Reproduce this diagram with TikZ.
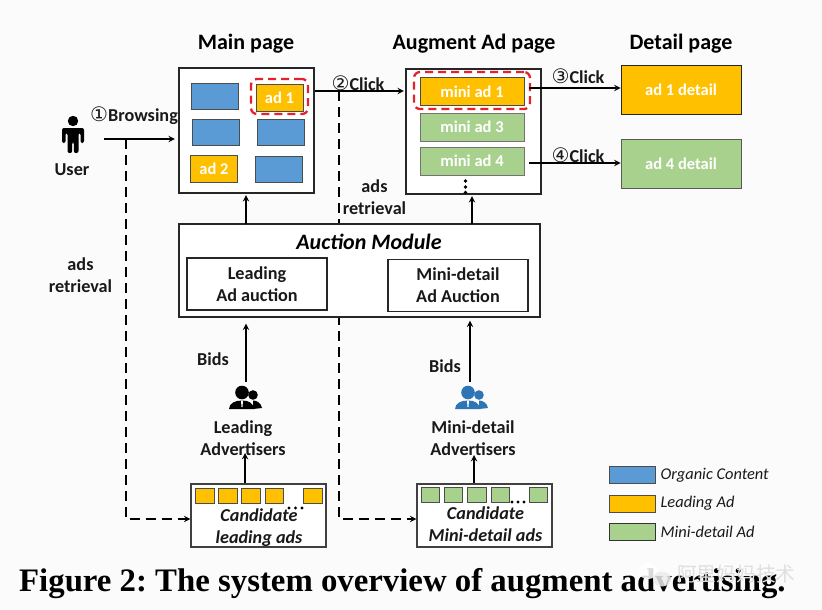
\documentclass[tikz,border=0pt]{standalone}
\usepackage{fontspec}
\setmainfont{Carlito}
\newfontfamily\capfont{Liberation Serif}
\newfontfamily\circfont{DejaVu Sans}
\newfontfamily\cjkfont{Noto Sans CJK SC}
\usetikzlibrary{positioning}
\definecolor{bluead}{HTML}{5B9BD5}
\definecolor{leadad}{HTML}{FFC000}
\definecolor{miniad}{HTML}{A9D18E}
\definecolor{paperbg}{HTML}{FBFBFB}
\definecolor{advblue}{HTML}{2E75B6}
\definecolor{dashred}{HTML}{E8202A}
\newcommand{\circno}[1]{{\circfont\fontsize{20}{20}\selectfont\mdseries #1}}

\begin{document}
\begin{tikzpicture}[
  x=1pt, y=-1pt,
  every node/.style={font=\fontsize{18.2}{22}\selectfont\bfseries, align=center, inner sep=0pt, text=black!90},
  pagebox/.style={rectangle, draw=black!85, line width=1.2pt, fill=white, minimum width=135pt, minimum height=125pt},
  organic/.style={rectangle, draw=black!70, line width=.9pt, fill=bluead, minimum width=47pt, minimum height=26pt},
  leadbox/.style={rectangle, draw=black!70, line width=.9pt, fill=leadad, minimum width=47pt, minimum height=27pt,
                  text=white, font=\fontsize{16.5}{20}\selectfont\bfseries},
  minibox/.style={rectangle, draw=black!55, line width=.9pt, fill=miniad, minimum width=104pt, minimum height=28pt,
                  text=white, font=\fontsize{16.5}{20}\selectfont\bfseries},
  detailbox/.style={rectangle, draw=black!85, line width=.9pt, minimum width=120pt, minimum height=49pt,
                    text=white, font=\fontsize{16.5}{20}\selectfont\bfseries},
  auctionbox/.style={rectangle, draw=black!85, line width=1.2pt, fill=white, minimum width=140pt, minimum height=52pt},
  candbox/.style={rectangle, draw=black!75, line width=1.2pt, fill=white, minimum width=135pt, minimum height=63pt},
  tinybox/.style={rectangle, draw=black!70, line width=.7pt, minimum width=18.5pt, minimum height=14.5pt},
  keybox/.style={rectangle, draw=black!70, line width=.8pt, minimum width=46pt, minimum height=17pt},
  keytext/.style={font=\fontsize{16.4}{19}\selectfont\itshape, anchor=west},
  candtext/.style={font=\fontsize{18.2}{22}\selectfont\bfseries\itshape},
  redline/.style={rectangle, draw=dashred, line width=2.3pt, rounded corners=6pt, dash pattern=on 8pt off 5pt},
  arr/.style={-stealth, line width=1.8pt, black},
  dasharr/.style={-stealth, line width=1.8pt, black, dash pattern=on 10pt off 6pt},
  title/.style={font=\fontsize{22}{26}\selectfont\bfseries, text=black},
  person/.pic={
    \fill[#1] (0,-14) circle (5.2);
    \fill[#1, rounded corners=2pt] (-11,-7) -- (11,-7) -- (11,8) -- (7.5,8) -- (7.5,-2) -- (5.5,-2)
      -- (5.5,18) -- (.8,18) -- (.8,7) -- (-.8,7) -- (-.8,18) -- (-5.5,18) -- (-5.5,-2) -- (-7.5,-2) -- (-7.5,8) -- (-11,8) -- cycle;
  },
  bizpair/.pic={
    \fill[#1] (-3,-4.5) circle (6.8);
    \fill[#1] (8,-2) circle (4.8);
    \fill[#1] (-16,12) .. controls (-15.5,6) and (-10,3.5) .. (-3,3.5) .. controls (4,3.5) and (8,6) .. (9,12) -- cycle;
    \fill[#1] (8,3.5) .. controls (12,3.5) and (16,6) .. (17,11) -- (8,12) -- cycle;
    \fill[white] (-4,3.5) -- (-2,3.5) -- (-2.5,10) -- (-3.5,10) -- cycle;
  }
]
\useasboundingbox (0,0) rectangle (822,610);
\fill[paperbg] (0,0) rectangle (822,610);

% titles
\node[title] (tmain)   at (246,44) {Main page};
\node[title] (taug)    at (474,44) {Augment Ad page};
\node[title] (tdetail) at (681,44) {Detail page};

% dashed retrieval lines go under the boxes
\coordinate (browsefork) at (126,139);
\coordinate (clickfork)  at (339,91);
\coordinate (leftcorner) at (126,519);
\coordinate (midcorner)  at (339,519);

\node[candbox] (candL) at (258.5,515.5) {};
\node[candbox] (candM) at (484.5,515.5) {};
\draw[dasharr] (browsefork) -- (leftcorner) -- (candL.west |- leftcorner);
\draw[dasharr] (clickfork) -- (midcorner) -- (candM.west |- midcorner);

% main page
\node[pagebox] (mainpage) at (246.5,130.5) {};
\node[organic] (org1) at (214.5,96) {};
\node[organic] (org2) at (215.5,132) {};
\node[organic] (org3) at (280.5,132) {};
\node[organic] (org4) at (278.5,169) {};
\node[leadbox] (ad1) at (279.5,97.5) {ad 1};
\node[leadbox] (ad2) at (214,168.5) {ad 2};
\node[redline, minimum width=57pt, minimum height=35pt] (ad1mark) at (279.5,96.5) {};

% augment ad page
\node[pagebox] (augpage) at (473.5,131.5) {};
\node[minibox, fill=leadad, draw=black!70] (mini1) at (472,91.5) {mini ad 1};
\node[minibox] (mini3) at (472,127) {mini ad 3};
\node[minibox] (mini4) at (472,161) {mini ad 4};
\node[redline, minimum width=116pt, minimum height=37pt] (mini1mark) at (472,90.5) {};
\foreach \y in {181,187,192.5} {
  \fill[black] (465.5,\y) circle (1.8);
}

% detail pages
\node[detailbox, fill=leadad] (det1) at (681,89.5) {ad 1 detail};
\node[detailbox, fill=miniad, draw=black!65] (det4) at (681,163.5) {ad 4 detail};

% user
\pic at (73,135) {person=black};
\node (user) at (72,170) {User};

% click arrows
\coordinate (browsestart) at (104,139);
\coordinate (click1) at (529,88);
\coordinate (click2) at (529,163);
\draw[arr, shorten >=3.5pt] (browsestart) -- (mainpage.west |- browsestart);
\draw[arr, shorten >=1.5pt] (mainpage.east |- clickfork) -- (augpage.west |- clickfork);
\draw[arr] (click1) -- (det1.west |- click1);
\draw[arr] (click2) -- (det4.west |- click2);

\node (lab1) at (134,116) {\circno{①}Browsing};
\node (lab2) at (358,83)  {\circno{②}Click};
\node (lab3) at (578,76)  {\circno{③}Click};
\node (lab4) at (578,155) {\circno{④}Click};
\node (retrL) at (80.5,275.5) {ads\\retrieval};
\node (retrM) at (374.5,197)  {ads\\retrieval};

% auction module
\node[rectangle, draw=black!85, line width=1.2pt, fill=white, minimum width=361pt, minimum height=93pt] (auction) at (359.5,270.5) {};
\node[font=\fontsize{22}{26}\selectfont\bfseries\itshape, text=black] (auctitle) at (369,241.5) {Auction Module};
\node[auctionbox] (auclead) at (257,284) {Leading\\Ad auction};
\node[auctionbox] (aucmini) at (458,285.5) {Mini-detail\\Ad Auction};
\coordinate (mainin) at (246,224);
\coordinate (augin) at (472,224);
\draw[arr, shorten >=1.5pt] (mainin) -- (mainin |- mainpage.south);
\draw[arr, shorten >=1.5pt] (augin) -- (augin |- augpage.south);

% advertisers
\pic at (245,397) {bizpair=black};
\pic at (471,397) {bizpair=advblue};
\node (advL) at (243,438) {Leading\\Advertisers};
\node (advM) at (473,438) {Mini-detail\\Advertisers};
\node (bidsL) at (213,359) {Bids};
\node (bidsM) at (445,366) {Bids};
\coordinate (bidstartL) at (246,382);
\coordinate (bidstartM) at (470,382);
\coordinate (advinL) at (245,453);
\coordinate (advinM) at (474,455);
\draw[arr, shorten >=6pt] (bidstartL) -- (bidstartL |- auction.south);
\draw[arr, shorten >=3pt] (bidstartM) -- (bidstartM |- auction.south);
\draw[arr] (advinL |- candL.north) -- (advinL);
\draw[arr] (advinM |- candM.north) -- (advinM);

% candidate boxes
\foreach \x in {205,228,251,274.5,313} {
  \node[tinybox, fill=leadad] (lt\x) at (\x,496) {};
}
\foreach \x in {430.5,453.5,477,500.5,538.5} {
  \node[tinybox, fill=miniad] (mt\x) at (\x,495) {};
}
\node[candtext] (candLtxt) at (259,528) {Candidate\\leading ads};
\node[candtext] (candMtxt) at (485.5,524) {Candidate\\Mini-detail ads};
\foreach \x in {289,295.5,302} {
  \fill[black] (\x,508) circle (1.7);
}
\foreach \x in {512,518,524} {
  \fill[black] (\x,502) circle (1.7);
}

% legend
\node[keybox, fill=bluead] (key1) at (632,475) {};
\node[keybox, fill=leadad] (key2) at (632,503.5) {};
\node[keybox, fill=miniad, draw=black!80] (key3) at (632,532) {};
\node[keytext, right=5pt of key1] (key1txt) {Organic Content};
\node[keytext, right=5pt of key2] (key2txt) {Leading Ad};
\node[keytext, right=5pt of key3] (key3txt) {Mini-detail Ad};

% caption and watermark
\node[font=\capfont\fontsize{32.8}{36}\selectfont\bfseries\frenchspacing, text=black, anchor=base west] (caption) at (19,591) {Figure 2: The system overview of augment advertising.};
\fill[white, opacity=.85] (648,571) ellipse (10 and 8);
\fill[white!85!gray, opacity=.85] (662,579) ellipse (9 and 7.5);
\node[font=\cjkfont\fontsize{19.7}{24}\selectfont\mdseries, text=white!75!gray, anchor=west] (mark) at (677,574) {阿里妈妈技术};
\end{tikzpicture}
\end{document}
